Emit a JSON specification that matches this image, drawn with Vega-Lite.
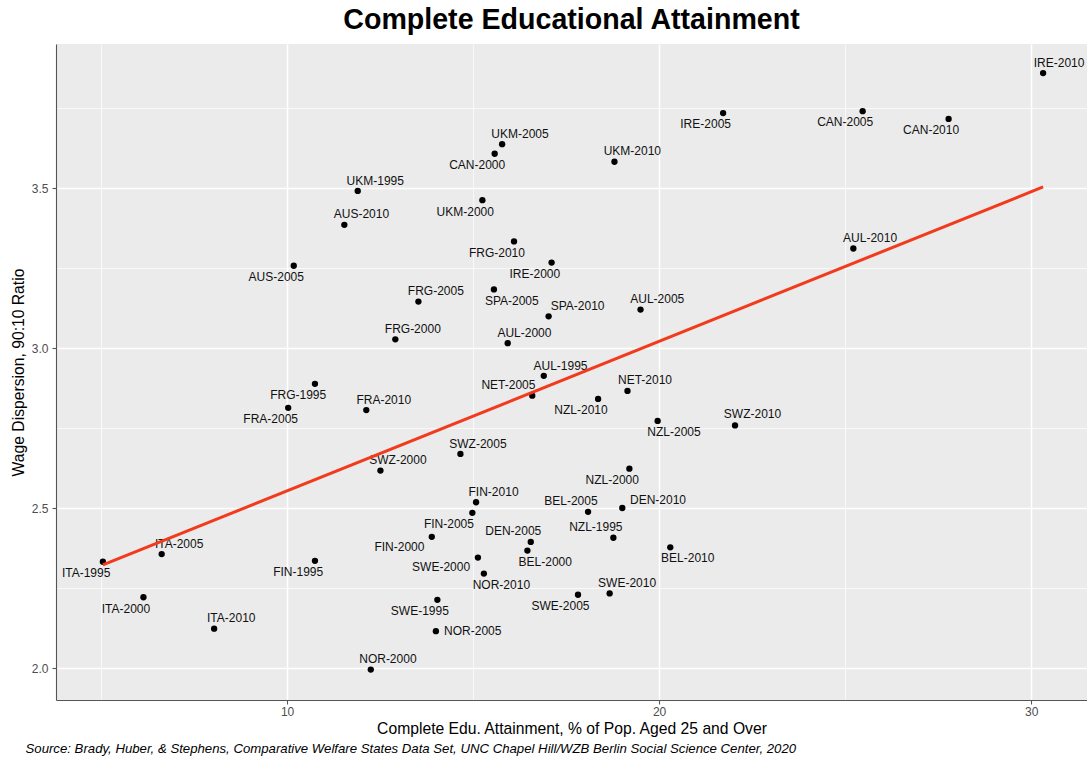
{
  "$schema": "https://vega.github.io/schema/vega-lite/v6.json",
  "width": 1031,
  "height": 656,
  "autosize": {"type": "none"},
  "padding": {"left": 56, "top": 44, "right": 0, "bottom": 59},
  "background": "white",
  "title": {
    "text": "Complete Educational Attainment",
    "font": "Liberation Sans",
    "fontSize": 28.6,
    "fontWeight": "bold",
    "color": "black",
    "anchor": "middle",
    "offset": 9
  },
  "config": {
    "view": {"fill": "#EBEBEB", "stroke": null},
    "font": "Liberation Sans"
  },
  "datasets": {
    "obs": [
      {"c": "IRE-2010", "x": 30.32, "y": 3.859, "lx": 30.75, "ly": 3.890},
      {"c": "IRE-2005", "x": 21.72, "y": 3.734, "lx": 21.25, "ly": 3.700},
      {"c": "CAN-2005", "x": 25.47, "y": 3.740, "lx": 25.00, "ly": 3.705},
      {"c": "CAN-2010", "x": 27.78, "y": 3.716, "lx": 27.31, "ly": 3.681},
      {"c": "UKM-2010", "x": 18.80, "y": 3.582, "lx": 19.28, "ly": 3.616},
      {"c": "AUL-2010", "x": 25.22, "y": 3.311, "lx": 25.67, "ly": 3.345},
      {"c": "UKM-2005", "x": 15.78, "y": 3.637, "lx": 16.26, "ly": 3.669},
      {"c": "CAN-2000", "x": 15.58, "y": 3.607, "lx": 15.11, "ly": 3.572},
      {"c": "UKM-1995", "x": 11.90, "y": 3.491, "lx": 12.37, "ly": 3.523},
      {"c": "UKM-2000", "x": 15.25, "y": 3.462, "lx": 14.79, "ly": 3.426},
      {"c": "AUS-2010", "x": 11.54, "y": 3.385, "lx": 12.00, "ly": 3.419},
      {"c": "FRG-2010", "x": 16.10, "y": 3.333, "lx": 15.64, "ly": 3.297},
      {"c": "IRE-2000", "x": 17.11, "y": 3.267, "lx": 16.66, "ly": 3.232},
      {"c": "SPA-2005", "x": 15.56, "y": 3.183, "lx": 16.04, "ly": 3.148},
      {"c": "FRG-2005", "x": 13.53, "y": 3.145, "lx": 14.00, "ly": 3.178},
      {"c": "SPA-2010", "x": 17.03, "y": 3.099, "lx": 17.81, "ly": 3.131},
      {"c": "AUL-2005", "x": 19.50, "y": 3.120, "lx": 19.95, "ly": 3.152},
      {"c": "FRG-2000", "x": 12.91, "y": 3.027, "lx": 13.38, "ly": 3.060},
      {"c": "AUL-2000", "x": 15.93, "y": 3.015, "lx": 16.38, "ly": 3.048},
      {"c": "AUS-2005", "x": 10.18, "y": 3.257, "lx": 9.71, "ly": 3.223},
      {"c": "FRG-1995", "x": 10.75, "y": 2.888, "lx": 10.30, "ly": 2.853},
      {"c": "FRA-2005", "x": 10.03, "y": 2.813, "lx": 9.56, "ly": 2.778},
      {"c": "FRA-2010", "x": 12.13, "y": 2.806, "lx": 12.60, "ly": 2.838},
      {"c": "SWZ-2005", "x": 14.66, "y": 2.669, "lx": 15.13, "ly": 2.700},
      {"c": "SWZ-2000", "x": 12.51, "y": 2.617, "lx": 12.98, "ly": 2.650},
      {"c": "AUL-1995", "x": 16.90, "y": 2.913, "lx": 17.35, "ly": 2.945},
      {"c": "NET-2005", "x": 16.59, "y": 2.851, "lx": 15.95, "ly": 2.884},
      {"c": "NZL-2010", "x": 18.36, "y": 2.841, "lx": 17.90, "ly": 2.805},
      {"c": "NET-2010", "x": 19.15, "y": 2.866, "lx": 19.62, "ly": 2.899},
      {"c": "NZL-2005", "x": 19.96, "y": 2.772, "lx": 20.40, "ly": 2.738},
      {"c": "SWZ-2010", "x": 22.04, "y": 2.758, "lx": 22.51, "ly": 2.793},
      {"c": "NZL-2000", "x": 19.20, "y": 2.623, "lx": 18.74, "ly": 2.588},
      {"c": "FIN-2010", "x": 15.08, "y": 2.518, "lx": 15.55, "ly": 2.551},
      {"c": "FIN-2005", "x": 14.98, "y": 2.485, "lx": 14.35, "ly": 2.451},
      {"c": "BEL-2005", "x": 18.09, "y": 2.488, "lx": 17.63, "ly": 2.521},
      {"c": "DEN-2010", "x": 19.01, "y": 2.500, "lx": 19.97, "ly": 2.526},
      {"c": "FIN-2000", "x": 13.89, "y": 2.410, "lx": 13.02, "ly": 2.378},
      {"c": "DEN-2005", "x": 16.55, "y": 2.394, "lx": 16.08, "ly": 2.427},
      {"c": "NZL-1995", "x": 18.77, "y": 2.407, "lx": 18.30, "ly": 2.441},
      {"c": "BEL-2000", "x": 16.46, "y": 2.367, "lx": 16.94, "ly": 2.330},
      {"c": "BEL-2010", "x": 20.30, "y": 2.377, "lx": 20.77, "ly": 2.344},
      {"c": "SWE-2000", "x": 15.13, "y": 2.345, "lx": 14.14, "ly": 2.317},
      {"c": "NOR-2010", "x": 15.29, "y": 2.295, "lx": 15.76, "ly": 2.258},
      {"c": "SWE-1995", "x": 14.04, "y": 2.213, "lx": 13.57, "ly": 2.178},
      {"c": "SWE-2005", "x": 17.82, "y": 2.229, "lx": 17.35, "ly": 2.194},
      {"c": "SWE-2010", "x": 18.67, "y": 2.233, "lx": 19.14, "ly": 2.265},
      {"c": "NOR-2005", "x": 14.00, "y": 2.115, "lx": 14.99, "ly": 2.117},
      {"c": "NOR-2000", "x": 12.25, "y": 1.995, "lx": 12.71, "ly": 2.028},
      {"c": "ITA-1995", "x": 5.05, "y": 2.332, "lx": 4.60, "ly": 2.298},
      {"c": "ITA-2005", "x": 6.63, "y": 2.356, "lx": 7.10, "ly": 2.388},
      {"c": "FIN-1995", "x": 10.75, "y": 2.335, "lx": 10.30, "ly": 2.299},
      {"c": "ITA-2000", "x": 6.14, "y": 2.221, "lx": 5.67, "ly": 2.184},
      {"c": "ITA-2010", "x": 8.04, "y": 2.123, "lx": 8.50, "ly": 2.156}
    ]
  },
  "data": {"name": "obs"},
  "resolve": {"axis": {"x": "independent"}},
  "layer": [
    {
      "mark": {"type": "point", "filled": true, "color": "black", "opacity": 1, "size": 40},
      "encoding": {
        "x": {
          "field": "x",
          "type": "quantitative",
          "scale": {"domain": [3.79, 31.5], "zero": false, "nice": false},
          "axis": {
            "title": "Complete Edu. Attainment, % of Pop. Aged 25 and Over",
            "titleFont": "Liberation Sans",
            "titleFontSize": 15.7,
            "titleFontWeight": "normal",
            "titleColor": "black",
            "titlePadding": 4,
            "values": [5, 10, 15, 20, 25, 30],
            "labelExpr": "datum.value % 10 === 0 ? datum.label : ''",
            "labelFontSize": 12,
            "labelColor": "#4D4D4D",
            "labelPadding": 2,
            "tickSize": 4,
            "tickColor": {"condition": {"test": "datum.value % 10 === 0", "value": "#555555"}, "value": "transparent"},
            "tickWidth": 1.1,
            "domainColor": "#555555",
            "domainWidth": 1.1,
            "grid": true,
            "gridColor": "white",
            "gridWidth": {"condition": {"test": "datum.value % 10 === 0", "value": 1.5}, "value": 0.7}
          }
        },
        "y": {
          "field": "y",
          "type": "quantitative",
          "title": "Wage Dispersion, 90:10 Ratio",
          "scale": {"domain": [1.9, 3.95], "zero": false, "nice": false},
          "axis": {
            "titleFont": "Liberation Sans",
            "titleFontSize": 15.7,
            "titleFontWeight": "normal",
            "titleColor": "black",
            "titlePadding": 5,
            "values": [2, 2.25, 2.5, 2.75, 3, 3.25, 3.5, 3.75],
            "labelExpr": "(datum.value * 4) % 2 === 0 ? format(datum.value, '.1f') : ''",
            "labelFontSize": 12,
            "labelColor": "#4D4D4D",
            "labelPadding": 4,
            "tickSize": 4,
            "tickColor": {"condition": {"test": "(datum.value * 4) % 2 === 0", "value": "#555555"}, "value": "transparent"},
            "tickWidth": 1.1,
            "domainColor": "#555555",
            "domainWidth": 1.1,
            "grid": true,
            "gridColor": "white",
            "gridWidth": {"condition": {"test": "(datum.value * 4) % 2 === 0", "value": 1.5}, "value": 0.7}
          }
        }
      }
    },
    {
      "mark": {"type": "text", "font": "Liberation Sans", "fontSize": 12, "color": "#111111", "align": "center", "baseline": "middle"},
      "encoding": {
        "x": {"field": "lx", "type": "quantitative", "axis": null},
        "y": {"field": "ly", "type": "quantitative", "title": "Wage Dispersion, 90:10 Ratio"},
        "text": {"field": "c"}
      }
    },
    {
      "transform": [{"regression": "y", "on": "x"}],
      "mark": {"type": "line", "color": "#F23A1C", "strokeWidth": 3},
      "encoding": {
        "x": {
          "field": "x",
          "type": "quantitative",
          "axis": {
            "orient": "bottom",
            "title": "Source: Brady, Huber, & Stephens, Comparative Welfare States Data Set, UNC Chapel Hill/WZB Berlin Social Science Center, 2020",
            "titleFont": "Liberation Sans",
            "titleFontSize": 13.2,
            "titleFontStyle": "italic",
            "titleFontWeight": "normal",
            "titleColor": "black",
            "titleAnchor": "start",
            "titleAlign": "left",
            "titleBaseline": "middle",
            "titleX": -31,
            "titleY": 48,
            "labels": false,
            "ticks": false,
            "domain": false,
            "grid": false
          }
        },
        "y": {"field": "y", "type": "quantitative", "title": "Wage Dispersion, 90:10 Ratio"}
      }
    }
  ]
}
